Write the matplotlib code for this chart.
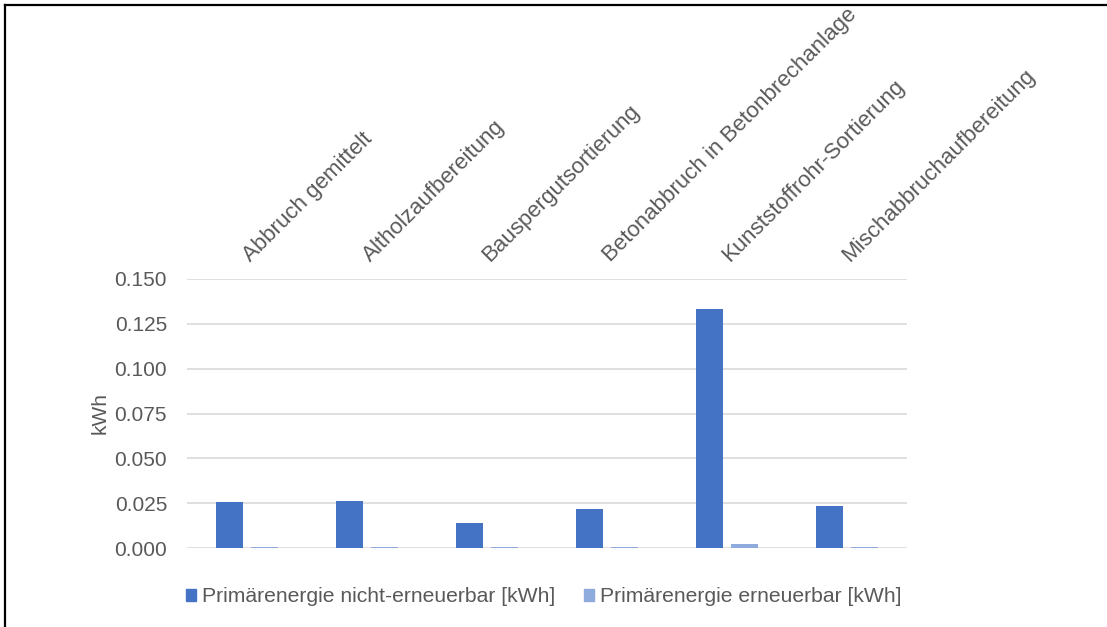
import matplotlib
matplotlib.use("Agg")
import matplotlib.pyplot as plt
from matplotlib.lines import Line2D
from matplotlib.patches import Patch
import numpy as np

plt.rcParams['font.family'] = ['Liberation Sans', 'DejaVu Sans']

categories = [
    "Abbruch gemittelt",
    "Altholzaufbereitung",
    "Bauspergutsortierung",
    "Betonabbruch in Betonbrechanlage",
    "Kunststoffrohr-Sortierung",
    "Mischabbruchaufbereitung",
]
non_renewable = [0.0256, 0.0264, 0.0137, 0.0219, 0.1334, 0.0235]
renewable = [0.0006, 0.0006, 0.0005, 0.0006, 0.0021, 0.0006]
series_names = ["Primärenergie nicht-erneuerbar [kWh]", "Primärenergie erneuerbar [kWh]"]
y_ticks = [0.0, 0.025, 0.05, 0.075, 0.1, 0.125, 0.15]

dark_blue = "#4472C4"
light_blue = "#8FAADC"
text_gray = "#595959"
grid_gray = "#D9D9D9"
fs = 15

W, H = 1107, 627
fig = plt.figure(figsize=(W / 100, H / 100), dpi=100)
ax = fig.add_axes([187 / W, (H - 548) / H, 720 / W, 269 / H])

x = np.arange(len(categories))
bw = 0.225
off = 0.1458
ax.bar(x - off, non_renewable, width=bw, color=dark_blue, zorder=3)
ax.bar(x + off, renewable, width=bw, color=light_blue, zorder=3)

ax.set_xlim(-0.5, len(categories) - 0.5)
ax.set_ylim(0, 0.15)
ax.set_yticks(y_ticks)
ax.set_yticklabels([f"{v:.3f}" for v in y_ticks])
ax.yaxis.grid(True, color=grid_gray, linewidth=1.2, zorder=0)
ax.set_axisbelow(True)
for s in ax.spines.values():
    s.set_visible(False)
ax.tick_params(axis='y', length=0, pad=14.4, labelsize=fs, labelcolor=text_gray)
ax.set_xticks([])
ax.text((100 - 187) / 720, 0.5, "kWh", transform=ax.transAxes, rotation=90,
        ha='center', va='center', fontsize=fs, color=text_gray)

# Category names above the plot, rotated 45 degrees
for xi, name in zip(x, categories):
    ax.text(xi + 3 / 120, 1 + 17 / 269, name, transform=ax.get_xaxis_transform(),
            rotation=45, rotation_mode='anchor', ha='left', va='baseline',
            fontsize=16, color=text_gray)

handles = [Patch(color=dark_blue), Patch(color=light_blue)]
fig.legend(handles, series_names, loc='center', bbox_to_anchor=(544 / W, 1 - 597 / H),
           ncol=2, frameon=False, fontsize=15.2, labelcolor=text_gray,
           handlelength=0.48, handleheight=0.48, handletextpad=0.29, columnspacing=1.35,
           borderpad=0)

# Frame lines along the top and left edges
fig.add_artist(Line2D([5 / W, 1], [1 - 5 / H, 1 - 5 / H], color='black', linewidth=1.6,
                      transform=fig.transFigure))
fig.add_artist(Line2D([5 / W, 5 / W], [0, 1 - 5 / H], color='black', linewidth=1.6,
                      transform=fig.transFigure))

fig.savefig("out.png", dpi=100)
